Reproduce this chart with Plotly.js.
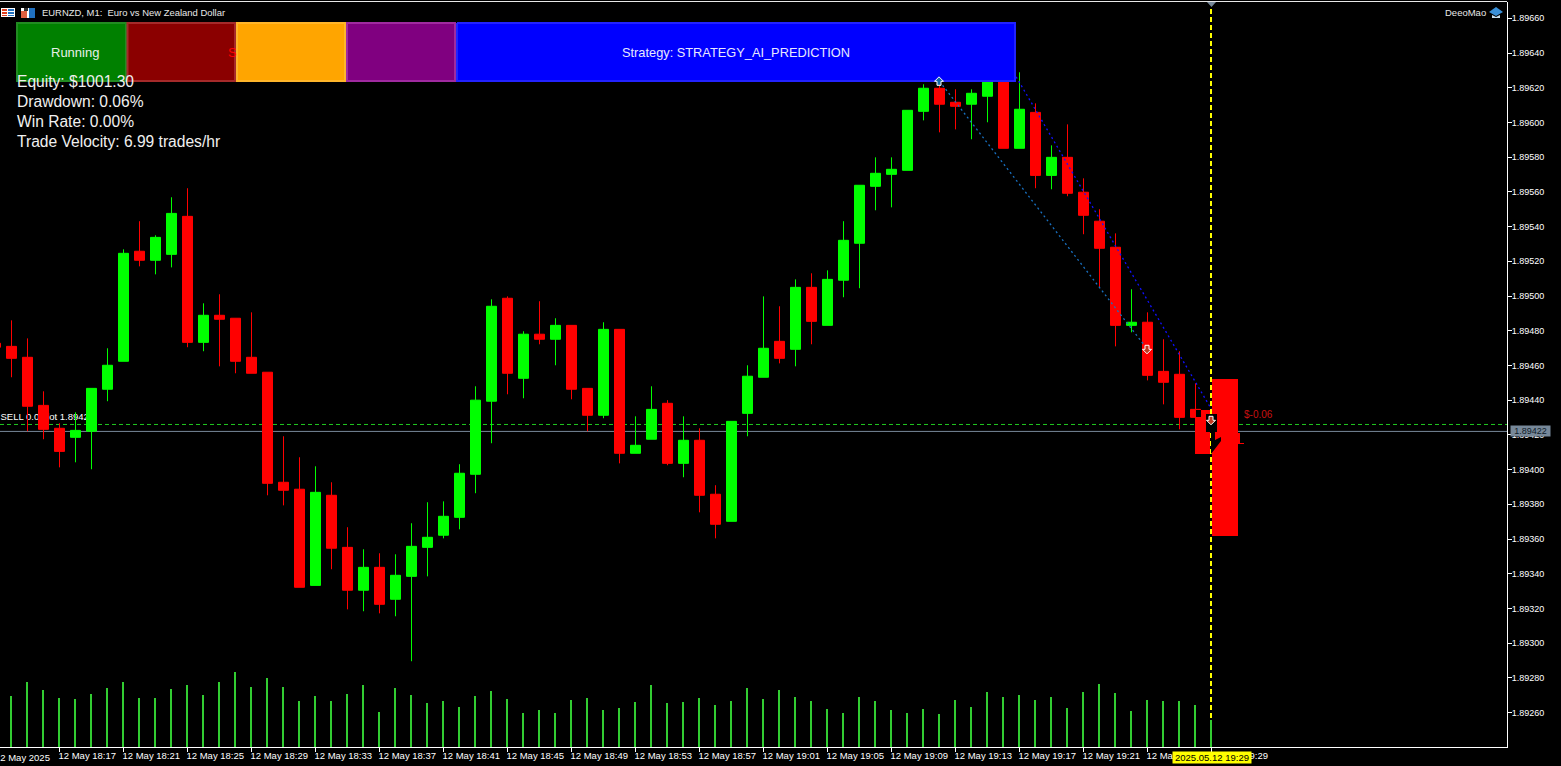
<!DOCTYPE html>
<html>
<head>
<meta charset="utf-8">
<script src="https://cdn.plot.ly/plotly-3.0.1.min.js"></script>
<style>html,body{margin:0;padding:0;background:#000;overflow:hidden}#chart{width:1561px;height:766px}</style>
</head>
<body>
<div id="chart"></div>
<script>
// Minutes after 18:00 on 12 May 2025, one candle per minute from 18:13 to 19:29.
const firstMinute = 13;
// Prices are stored in points above 1.89000 (1 point = 0.00001).
const opens = [472.8,471.0,464.7,437.0,423.8,418.6,422.1,446.3,462.4,525.8,520.6,524.0,545.9,473.3,488.9,487.2,464.7,456.1,392.7,388.7,333.3,385.2,355.2,330.5,343.7,325.3,338.5,355.2,362.2,372.5,397.3,439.4,498.7,452.6,478.0,475.1,483.1,446.8,431.3,480.8,409.4,417.5,438.2,403.6,416.9,385.8,370.2,432.4,453.2,473.9,469.3,505.0,483.1,509.1,530.4,563.2,570.1,572.4,606.4,619.7,611.6,610.5,615.1,626.6,585.1,605.8,569.5,579.9,559.8,543.1,528.1,483.1,484.9,456.6,454.9,434.7,431.8];
const highs = [474.5,486.0,475.6,445.1,426.7,433.0,446.8,469.9,526.9,543.1,535.0,556.9,562.1,495.8,501.0,487.2,490.6,456.1,419.2,407.1,401.9,392.7,366.8,354.1,351.8,351.2,369.1,381.2,381.7,403.1,448.0,498.1,499.8,479.7,497.0,487.2,483.1,446.8,484.9,480.8,430.7,448.0,440.0,430.7,423.8,391.0,427.8,460.1,499.8,494.1,509.6,513.1,514.8,543.1,563.8,579.9,579.9,607.0,622.0,624.3,619.1,619.1,626.6,628.9,628.9,611.0,586.8,598.9,567.8,550.0,536.1,503.9,490.6,475.1,468.2,449.7,431.8];
const lows = [468.7,453.2,422.1,417.5,401.3,404.2,400.2,439.4,462.4,517.1,512.5,516.5,470.5,468.2,459.5,455.5,455.5,385.2,379.4,332.2,333.3,342.6,319.5,318.4,317.2,315.5,289.6,338.5,360.4,365.6,386.4,415.2,443.4,441.1,472.2,460.1,440.5,422.1,429.6,403.6,409.4,417.5,402.5,395.6,375.4,360.4,370.2,419.2,453.2,461.2,459.5,472.2,483.1,499.3,504.5,549.4,551.1,572.4,601.2,594.3,596.0,590.3,600.1,585.1,585.1,562.1,561.5,557.5,535.6,504.5,471.0,479.1,451.4,437.6,423.2,430.1,422.1];
const closes = [470.5,464.1,436.5,423.2,410.5,422.6,446.8,460.1,524.6,520.6,533.8,547.6,473.3,488.9,486.6,462.4,455.5,392.1,388.1,332.2,386.9,354.7,330.5,343.7,322.4,339.1,355.8,361.0,373.1,397.9,440.0,494.1,455.5,478.0,475.1,483.1,446.3,431.3,480.8,409.4,414.0,434.7,403.6,416.9,385.2,368.5,427.8,453.8,469.9,464.1,505.0,485.4,509.6,532.1,563.8,570.7,573.0,607.0,619.7,610.5,609.3,616.8,624.3,585.1,607.6,569.5,579.9,559.2,546.5,527.5,483.1,484.9,454.3,450.3,430.1,430.1,422.1];
const tickVolumes = [135,153,195,171,147,144,159,177,195,147,147,174,186,156,195,225,180,207,180,138,153,138,159,186,105,177,156,132,138,120,153,168,144,102,111,102,141,147,111,117,135,186,132,135,147,126,138,177,144,171,150,138,114,102,150,138,111,102,114,99,141,120,165,150,156,141,150,117,165,189,162,108,141,138,138,126,81];
const xTickMinutes = [17,21,25,29,33,37,41,45,49,53,57,61,65,69,73,77,81,85,89];
const xTickLabels = ['12 May 18:17','12 May 18:21','12 May 18:25','12 May 18:29','12 May 18:33','12 May 18:37','12 May 18:41','12 May 18:45','12 May 18:49','12 May 18:53','12 May 18:57','12 May 19:01','12 May 19:05','12 May 19:09','12 May 19:13','12 May 19:17','12 May 19:21','12 May 19:25','12 May 19:29'];
const yTickPrices = [1.8926,1.8928,1.893,1.8932,1.8934,1.8936,1.8938,1.894,1.8942,1.8944,1.8946,1.8948,1.895,1.8952,1.8954,1.8956,1.8958,1.896,1.8962,1.8964,1.8966];
const statLines = ['Equity: $1001.30','Drawdown: 0.06%','Win Rate: 0.00%','Trade Velocity: 6.99 trades/hr'];
const sellPrice = 1.89426, bidPrice = 1.89422;
const entryLine = {m:[72,85], p:[1.896237,1.894693]};
const exitLine = {m:[76,89], p:[1.896387,1.894347]};
const tradeMinutes = [72,85,89], tradePrices = [1.896237,1.894693,1.894284], tradeDirs = [-1,1,1], tradeColors = ['#1068a8','#c03820','#c03820'];

const price = v => 1.89 + v/100000;
const minutes = opens.map((_,i)=>firstMinute+i);
const W=1507, H=745, TOP=2;
const xMin=13.28125, xMax=xMin+W/16;
const yMin=1.8924002+0.0000017, yMax=1.8966922+0.0000017;
const FONT='"Liberation Sans", Arial, sans-serif';
// pixel helpers for chrome drawn on top of the chart
const X=px=>px/W, Y=py=>(TOP+H-py)/H;
const mAt=px=>xMin+px/16, pAt=py=>yMin+(TOP+H-py)/H*(yMax-yMin);
const mPx=m=>(m-xMin)*16, pPx=p=>TOP+H-(p-yMin)/(yMax-yMin)*H;
const rect=(x0,y0,x1,y1,fill,line,lw)=>({type:'rect',xref:'paper',yref:'paper',x0:X(x0),x1:X(x1),y0:Y(y0),y1:Y(y1),fillcolor:fill,line:{color:line||fill,width:line?(lw||1):0}});
const poly=(pts,fill)=>({type:'path',xref:'paper',yref:'paper',fillcolor:fill,line:{width:0},path:'M'+pts.map(p=>X(p[0])+','+Y(p[1])).join('L')+'Z'});
const ann=(t,x,y,size,color,anchor,extra)=>Object.assign({xref:'paper',yref:'paper',x:X(x),y:Y(y),text:t,showarrow:false,xanchor:anchor||'left',yanchor:'middle',borderpad:0,font:{family:FONT,size:size,color:color}},extra||{});
const blob=(pts,color,outline,lw)=>({type:'scatter',xaxis:'x',yaxis:'y2',x:pts.map(p=>mAt(p[0])),y:pts.map(p=>pAt(p[1])),mode:'lines',line:{width:outline?(lw||1):0,color:outline||color},fill:'toself',fillcolor:color,hoverinfo:'skip',showlegend:false});
// block arrow trade marker, centred on the trade's minute and price
const arrowMarker=(m,p,dir,color)=>{const c=mPx(m)-0.5,y=pPx(p);return blob([[0,-4.5],[4.5,0],[2,0],[2,4],[-2,4],[-2,0],[-4.5,0],[0,-4.5]].map(q=>[c+q[0],y-dir*q[1]]),color,'#ffffff');};

const traces=[
 {type:'scatter',x:[xMin,xMax],y:[bidPrice,bidPrice],mode:'lines',line:{color:'#778899',width:1},hoverinfo:'skip'},
 {type:'scatter',x:[xMin,xMax],y:[sellPrice,sellPrice],mode:'lines',line:{color:'#20c820',width:1,dash:'4px,3px'},hoverinfo:'skip'},
 {type:'scatter',x:[mAt(0.5)],y:[pAt(418)],mode:'text',text:['SELL 0.01 lot 1.89426'],textposition:'middle right',textfont:{family:FONT,size:9.5,color:'#ffffff'},hoverinfo:'skip'},
 {type:'bar',xaxis:'x',yaxis:'y3',x:minutes,y:tickVolumes,width:0.125,offset:-0.09375,marker:{color:'#32cd32',line:{width:0}},hoverinfo:'skip'},
 {type:'candlestick',xaxis:'x',yaxis:'y2',x:minutes,open:opens.map(price),high:highs.map(price),low:lows.map(price),close:closes.map(price),whiskerwidth:0,
  increasing:{line:{color:'#00ff00',width:1},fillcolor:'#00ff00'},decreasing:{line:{color:'#ff0000',width:1},fillcolor:'#ff0000'},hoverinfo:'skip'},
 {type:'scatter',xaxis:'x',yaxis:'y2',x:entryLine.m,y:entryLine.p,mode:'lines',line:{color:'#1870c0',width:1.3,dash:'2px,3px'},hoverinfo:'skip'},
 {type:'scatter',xaxis:'x',yaxis:'y2',x:exitLine.m,y:exitLine.p,mode:'lines',line:{color:'#1010ff',width:1.3,dash:'2px,3px'},hoverinfo:'skip'},
 // strategy panel sits over the candles but under the first trade arrow
 blob([[457,23],[1015,23],[1015,81],[457,81],[457,23]],'#0000ff','#2222ff',2),
 {type:'scatter',xaxis:'x',yaxis:'y2',x:[mAt(1211),mAt(1211)],y:[pAt(9),pAt(747)],mode:'lines',line:{color:'#ffff00',width:2,dash:'5px,3px'},hoverinfo:'skip'},
 blob([[1195,410],[1210,410],[1210,454],[1195,454]],'#ff0000'),
 blob([[1212,379],[1238,379],[1238,536],[1212,536]],'#ff0000'),
 blob([[1238,433],[1240,433],[1240,443],[1244,443],[1244,444],[1238,444]],'#ff0000'),
 blob([[1196,410],[1201,410],[1201,417],[1196,417]],'#000000'),
 blob([[1206,414],[1217,414],[1217,432],[1206,432]],'#000000'),
 blob([[1211,432],[1215,432],[1215,440],[1221,437],[1221,441],[1211,454]],'#000000')
].concat(tradeMinutes.map((m,i)=>arrowMarker(m,tradePrices[i],tradeDirs[i],tradeColors[i])));

const shapes=[
 {type:'line',xref:'paper',yref:'paper',x0:0,x1:1,y0:Y(1.5),y1:Y(1.5),line:{color:'#e8e8e8',width:1}},
 rect(17,23,126,81,'#008000','#228b22',2),
 rect(127.5,23,235,81,'#8b0000','#a52a2a',2),
 rect(237,23,345,81,'#ffa500','#ffb52a',2),
 rect(347,23,455,81,'#800080','#a02aa0',2),
 poly([[1207,2],[1216,2],[1211.5,7]],'#778899'),
 // window title icons
 rect(1,8,15,17,'#ffffff'),rect(2,9,7,11,'#e04020'),rect(2,12,7,14,'#e04020'),rect(2,15,7,16,'#e04020'),rect(8,9,14,11,'#2070c0'),rect(8,12,14,14,'#2070c0'),rect(8,15,14,16,'#2070c0'),
 rect(21,8,35,18,'#ffffff'),rect(21,11,27,18,'#e06040'),rect(29,8,35,18,'#2070c0'),rect(24,8,28,11,'#303030'),
 // DeeoMao cap icon
 poly([[1489,12],[1496,7],[1503,12],[1496,16]],'#3a90d8'),poly([[1492,15],[1496,17],[1500,15],[1500,18],[1492,18]],'#c8e0f0')
];

const annotations=[
 ann('EURNZD, M1:  Euro vs New Zealand Dollar',41,12.5,9.45,'#e8e8e8'),
 ann('DeeoMao',1444,12.5,9.5,'#e8e8e8'),
 ann('Running',75,52.5,13,'#e8f0e8','center'),
 ann('S',226.5,52.5,13,'#ff0000'),
 ann('Strategy: STRATEGY_AI_PREDICTION',735.5,52.5,12.8,'#e8e8ff','center')
];
statLines.forEach((t,i)=>annotations.push(ann(t,15.5,81.5+20*i,15.6,'#f0f0f0')));
annotations.push(
 ann('$-0.06',1243,414,10,'#c81010'),
 ann('12 May 2025',-6,757.5,9.5,'#ffffff'),
 ann('1.89422',1510,431,9,'#10202a','left',{bgcolor:'#778899',width:39,height:10,align:'center'}),
 ann('2025.05.12 19:29',1172,757.5,9.5,'#000000','left',{bgcolor:'#ffff00',width:78,height:11,align:'center'})
);

const hiddenY={range:[yMin,yMax],overlaying:'y',visible:false,fixedrange:true};
const layout={
 width:1561,height:766,autosize:false,showlegend:false,
 paper_bgcolor:'#000000',plot_bgcolor:'#000000',
 margin:{l:0,r:54,t:TOP,b:19,pad:0},
 hovermode:false,dragmode:false,boxgap:0.375,boxgroupgap:0,bargap:0,
 xaxis:{range:[xMin,xMax],tickmode:'array',tickvals:xTickMinutes,ticktext:xTickLabels,ticklabelposition:'outside right',ticklabelshift:-2,
  showgrid:false,zeroline:false,showline:true,linecolor:'#ffffff',linewidth:1,ticks:'outside',ticklen:4,tickcolor:'#ffffff',tickwidth:1,
  tickangle:0,tickfont:{family:FONT,size:9.5,color:'#ffffff'},rangeslider:{visible:false},fixedrange:true},
 yaxis:{range:[yMin,yMax],side:'right',tickmode:'array',tickvals:yTickPrices,ticktext:yTickPrices.map(v=>v.toFixed(5)),ticklabelstandoff:-2,
  showgrid:false,zeroline:false,showline:true,linecolor:'#ffffff',linewidth:1,ticks:'outside',ticklen:4,tickcolor:'#ffffff',tickwidth:1,
  tickfont:{family:FONT,size:9,color:'#ffffff'},fixedrange:true},
 yaxis2:hiddenY,
 yaxis3:{range:[0,2235],overlaying:'y',visible:false,fixedrange:true},
 shapes:shapes,annotations:annotations
};
Plotly.newPlot('chart',traces,layout,{displayModeBar:false,responsive:false,staticPlot:true});
</script>
</body>
</html>
